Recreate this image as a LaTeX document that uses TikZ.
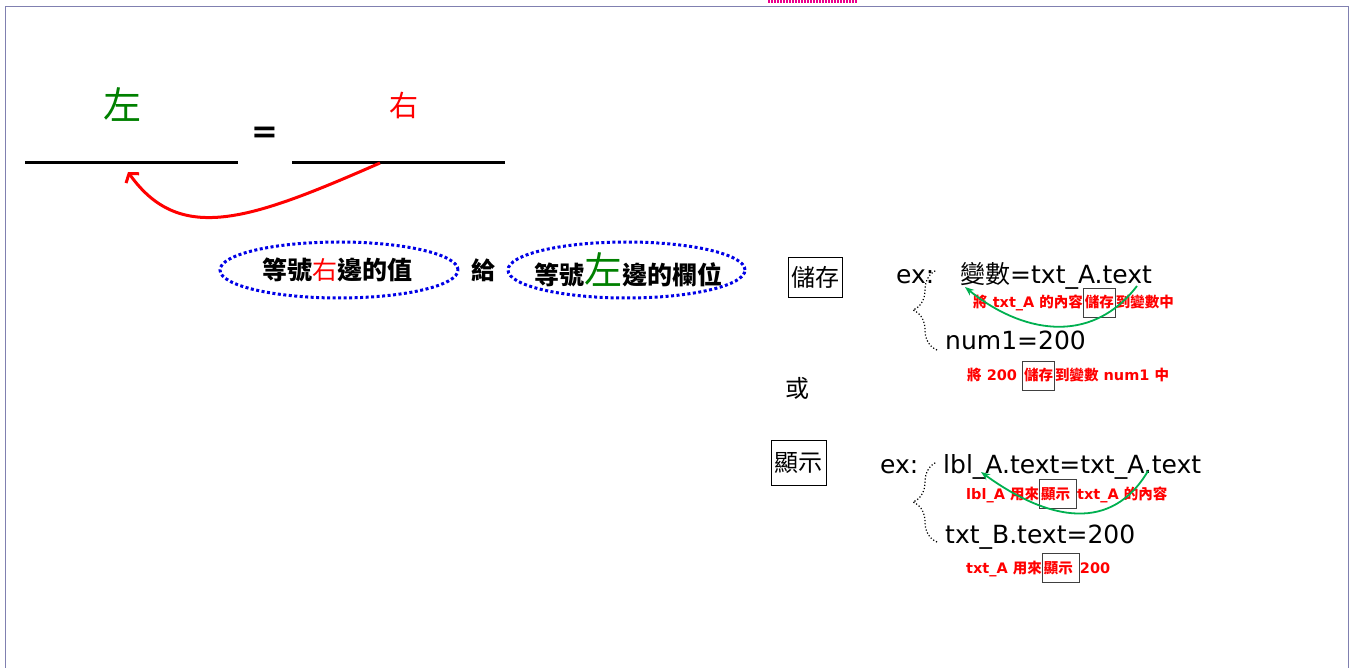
\documentclass[tikz,border=0pt]{standalone}
\usepackage{fontspec}
\setmainfont{DejaVu Sans}
\newfontfamily\cjk{Noto Sans CJK TC}
\usetikzlibrary{arrows.meta, positioning, decorations.pathreplacing}
\definecolor{EqGreen}{RGB}{0, 128, 0}
\definecolor{EqRed}{RGB}{255, 0, 0}
\definecolor{ArrowGreen}{RGB}{0, 176, 80}
\definecolor{DotBlue}{RGB}{0, 0, 230}
\definecolor{FrameGray}{RGB}{128, 128, 176}
\newcommand{\zh}[1]{{\cjk #1}}
\newcommand{\keyfbox}[1]{{\setlength{\fboxsep}{1pt}\setlength{\fboxrule}{1pt}\color{black!75}\fbox{\rule[-8pt]{0pt}{26pt}\color{EqRed}#1}}}

\begin{document}
\begin{tikzpicture}[x=1pt, y=-1pt,
    code/.style={font=\fontsize{25}{28}\selectfont, anchor=base west, inner sep=0pt},
    note/.style={EqRed, font=\fontsize{14.5}{17}\selectfont\bfseries, anchor=base west, inner sep=0pt},
    oval/.style={draw=DotBlue, line width=3pt, dash pattern=on 3pt off 2.5pt},
    keybox/.style={draw, line width=0.9pt, inner sep=0pt, font=\cjk\fontsize{24}{26}\selectfont},
    dotbrace/.style={dotted, line width=1.2pt, decorate, decoration={brace, amplitude=24pt}}]
    \useasboundingbox (0,0) rectangle (1355,668);
    % slide frame
    \draw[FrameGray] (5,668) -- (5,6) -- (1348,6) -- (1348,668);
    \draw[magenta, line width=3pt, dash pattern=on 2pt off 1pt] (768,1.5) -- (857,1.5);

    % left = right
    \node[EqGreen, font=\cjk\fontsize{38}{40}\selectfont] (lft) at (122,105) {左};
    \node[EqRed, font=\cjk\fontsize{29}{32}\selectfont] (rgt) at (404,105) {右};
    \node[font=\fontsize{32}{36}\selectfont\bfseries] (eq) at (265,135) {=};
    \draw[line width=3pt] (25,163) -- (238,163);
    \draw[line width=3pt] (292,163) -- (505,163);
    \coordinate (src) at (380,163);
    \coordinate (dst) at (128,172);
    \draw[EqRed, line width=3pt, -{Straight Barb[length=6pt, width=16pt]}] (src) .. controls (250,220) and (180,245) .. (dst);

    % ovals
    \node[font=\cjk\fontsize{25}{28}\selectfont\bfseries] (val) at (337,270) {等號{\mdseries\color{EqRed}右}邊的值};
    \draw[oval] (339,270) ellipse [x radius=119pt, y radius=28pt];
    \node[font=\cjk\fontsize{24}{26}\selectfont\bfseries] (give) at (483,270) {給};
    \node[font=\cjk\fontsize{25}{28}\selectfont\bfseries] (field) at (628,270) {等號{\mdseries\color{EqGreen}\fontsize{38}{40}\selectfont 左}邊的欄位};
    \draw[oval] (626.5,270) ellipse [x radius=118.5pt, y radius=28pt];

    % store
    \node[keybox, minimum width=54pt, minimum height=40pt] (store) at (815,277) {儲存};
    \node[code] (ex1) at (896,284) {ex:};
    \node[code] (var1) at (960,284) {\zh{變數}=txt\_A.text};
    \node[note] (n1) at (973,308) {\zh{將} txt\_A \zh{的內容}\keyfbox{\zh{儲存}}\zh{到變數中}};
    \node[code] (num1) at (945,349) {num1=200};
    \node[note] (n2) at (967,381) {\zh{將} 200 \keyfbox{\zh{儲存}}\zh{到變數} num1 \zh{中}};
    \draw[dotbrace] (937,350) -- (937,270);
    \coordinate (g1a) at (1137,286);
    \coordinate (g1b) at (965,287);
    \draw[ArrowGreen, line width=1.8pt, -{Stealth[length=9pt, width=7pt]}] (g1a) .. controls (1090,347) and (1020,332) .. (g1b);

    \node[font=\cjk\fontsize{24}{26}\selectfont] (or) at (797,388) {或};

    % show
    \node[keybox, minimum width=55pt, minimum height=45pt] (show) at (798.5,462.5) {顯示};
    \node[code] (ex2) at (880,473) {ex:};
    \node[code] (lbl) at (943,473) {lbl\_A.text=txt\_A.text};
    \node[note] (n3) at (966,499) {lbl\_A \zh{用來}\keyfbox{\zh{顯示} }txt\_A \zh{的內容}};
    \node[code] (txtb) at (945,543) {txt\_B.text=200};
    \node[note] (n4) at (966,573) {txt\_A \zh{用來}\keyfbox{\zh{顯示} }200};
    \draw[dotbrace] (937,542) -- (937,462);
    \coordinate (g2a) at (1148,471);
    \coordinate (g2b) at (981,472);
    \draw[ArrowGreen, line width=1.8pt, -{Stealth[length=9pt, width=7pt]}] (g2a) .. controls (1112,532) and (1050,522) .. (g2b);
\end{tikzpicture}
\end{document}
